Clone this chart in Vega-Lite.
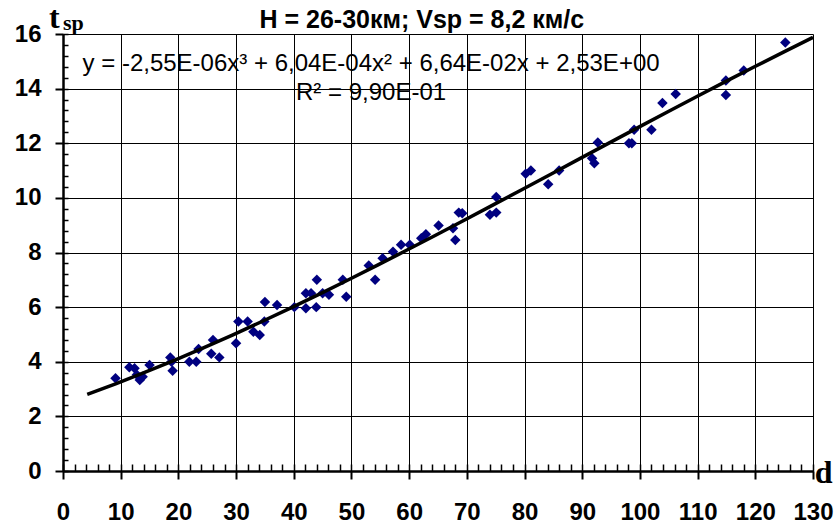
{
  "$schema": "https://vega.github.io/schema/vega-lite/v6.json",
  "width": 750,
  "height": 437,
  "autosize": "none",
  "padding": {"left": 63, "top": 34, "right": 25, "bottom": 58},
  "background": "#ffffff",
  "config": {"view": {"stroke": null}, "axis": {"labels": false, "ticks": false, "domain": false, "titleOpacity": 0, "titleFontSize": 1}},
  "datasets": {
    "pts": [
      {"d": 9.1, "tsp": 3.4}, {"d": 11.5, "tsp": 3.8}, {"d": 12.4, "tsp": 3.76}, {"d": 12.8, "tsp": 3.52}, {"d": 13.3, "tsp": 3.33}, {"d": 13.8, "tsp": 3.45}, {"d": 15.0, "tsp": 3.88}, {"d": 18.6, "tsp": 4.16}, {"d": 18.8, "tsp": 4.0}, {"d": 19.0, "tsp": 3.67}, {"d": 21.9, "tsp": 4.0}, {"d": 23.1, "tsp": 4.0}, {"d": 23.5, "tsp": 4.47}, {"d": 25.7, "tsp": 4.29}, {"d": 26.0, "tsp": 4.8}, {"d": 27.1, "tsp": 4.16}, {"d": 30.0, "tsp": 4.68}, {"d": 30.4, "tsp": 5.47}, {"d": 32.0, "tsp": 5.47}, {"d": 33.0, "tsp": 5.1}, {"d": 34.1, "tsp": 4.98}, {"d": 34.9, "tsp": 5.47}, {"d": 35.0, "tsp": 6.19}, {"d": 37.1, "tsp": 6.08}, {"d": 40.1, "tsp": 6.0}, {"d": 42.1, "tsp": 5.96}, {"d": 42.1, "tsp": 6.51}, {"d": 43.0, "tsp": 6.51}, {"d": 43.9, "tsp": 6.0}, {"d": 44.0, "tsp": 7.0}, {"d": 45.0, "tsp": 6.51}, {"d": 46.1, "tsp": 6.45}, {"d": 48.5, "tsp": 7.0}, {"d": 49.1, "tsp": 6.38}, {"d": 53.0, "tsp": 7.52}, {"d": 54.1, "tsp": 7.0}, {"d": 55.4, "tsp": 7.79}, {"d": 57.2, "tsp": 8.03}, {"d": 58.6, "tsp": 8.28}, {"d": 60.1, "tsp": 8.28}, {"d": 62.1, "tsp": 8.52}, {"d": 62.9, "tsp": 8.67}, {"d": 65.1, "tsp": 8.99}, {"d": 67.6, "tsp": 8.89}, {"d": 68.0, "tsp": 8.46}, {"d": 68.6, "tsp": 9.46}, {"d": 69.2, "tsp": 9.44}, {"d": 74.0, "tsp": 9.38}, {"d": 75.1, "tsp": 9.46}, {"d": 75.1, "tsp": 10.03}, {"d": 80.2, "tsp": 10.88}, {"d": 81.1, "tsp": 11.0}, {"d": 84.1, "tsp": 10.5}, {"d": 86.0, "tsp": 11.0}, {"d": 91.7, "tsp": 11.45}, {"d": 92.1, "tsp": 11.27}, {"d": 92.7, "tsp": 12.03}, {"d": 98.1, "tsp": 12.0}, {"d": 98.6, "tsp": 12.0}, {"d": 99.0, "tsp": 12.49}, {"d": 102.0, "tsp": 12.49}, {"d": 103.9, "tsp": 13.47}, {"d": 106.2, "tsp": 13.8}, {"d": 114.9, "tsp": 14.3}, {"d": 114.9, "tsp": 13.77}, {"d": 118.0, "tsp": 14.66}, {"d": 125.2, "tsp": 15.69}
    ]
  },
  "layer": [
    {
      "data": {"name": "pts"},
      "mark": {"type": "point", "shape": "diamond", "filled": true, "color": "#000080", "size": 110, "opacity": 1},
      "encoding": {
        "x": {"field": "d", "type": "quantitative", "scale": {"domain": [0, 130], "nice": false, "zero": false},
          "axis": {"orient": "bottom", "zindex": 0, "values": [0,10,20,30,40,50,60,70,80,90,100,110,120,130], "title": null, "labels": true, "ticks": true, "domain": true, "grid": true, "gridColor": "#000000", "gridWidth": 1, "gridOpacity": 1, "gridDash": [], "domainColor": "#000000", "domainWidth": 2.5, "tickColor": "#000000", "tickWidth": 2, "tickSize": 8, "labelFont": "Liberation Sans", "labelFontSize": 24, "labelFontWeight": "bold", "labelColor": "#000000", "labelPadding": 21, "labelFlush": false, "labelOverlap": false}},
        "y": {"field": "tsp", "type": "quantitative", "scale": {"domain": [0, 16], "nice": false, "zero": false},
          "axis": {"orient": "left", "zindex": 0, "values": [0,2,4,6,8,10,12,14,16], "title": null, "labels": true, "ticks": true, "domain": true, "grid": true, "gridColor": "#000000", "gridWidth": 1, "gridOpacity": 1, "gridDash": [], "domainColor": "#000000", "domainWidth": 2.5, "tickColor": "#000000", "tickWidth": 2, "tickSize": 8, "labelFont": "Liberation Sans", "labelFontSize": 24, "labelFontWeight": "bold", "labelColor": "#000000", "labelPadding": 14, "labelFlush": false, "labelOverlap": false}}
      }
    },
    {
      "data": {"name": "pts"},
      "transform": [{"regression": "tsp", "on": "d", "method": "poly", "order": 3, "extent": [4.2, 130]}],
      "mark": {"type": "line", "color": "#000000", "strokeWidth": 3.5},
      "encoding": {
        "x": {"field": "d", "type": "quantitative",
          "axis": {"orient": "top", "zindex": 1, "offset": -437, "values": [0,2,4,6,8,10,12,14,16,18,20,22,24,26,28,30,32,34,36,38,40,42,44,46,48,50,52,54,56,58,60,62,64,66,68,70,72,74,76,78,80,82,84,86,88,90,92,94,96,98,100,102,104,106,108,110,112,114,116,118,120,122,124,126,128,130], "title": null, "grid": false, "domain": false, "labels": false, "ticks": true, "tickColor": "#000000", "tickOpacity": 1, "tickWidth": 1.5, "tickSize": 7}},
        "y": {"field": "tsp", "type": "quantitative",
          "axis": {"orient": "right", "zindex": 1, "offset": -750, "values": [0,0.4,0.8,1.2,1.6,2,2.4,2.8,3.2,3.6,4,4.4,4.8,5.2,5.6,6,6.4,6.8,7.2,7.6,8,8.4,8.8,9.2,9.6,10,10.4,10.8,11.2,11.6,12,12.4,12.8,13.2,13.6,14,14.4,14.8,15.2,15.6,16], "title": null, "grid": false, "domain": false, "labels": false, "ticks": true, "tickColor": "#000000", "tickOpacity": 1, "tickWidth": 1.5, "tickSize": 5}}
      }
    },
    {
      "data": {"values": [
        {"d": 53.4, "tsp": 14.9, "label": "y = -2,55E-06x³ + 6,04E-04x² + 6,64E-02x + 2,53E+00"},
        {"d": 53.4, "tsp": 13.85, "label": "R² = 9,90E-01"}
      ]},
      "mark": {"type": "text", "font": "Liberation Sans", "fontSize": 24, "color": "#000000", "align": "center", "baseline": "middle"},
      "encoding": {
        "x": {"field": "d", "type": "quantitative"},
        "y": {"field": "tsp", "type": "quantitative"},
        "text": {"field": "label"}
      }
    },
    {
      "data": {"values": [{"d": 62.2, "tsp": 16.22, "label": "H = 26-30км; Vsp = 8,2 км/с"}]},
      "mark": {"type": "text", "font": "Liberation Sans", "fontSize": 25, "fontWeight": "bold", "color": "#000000", "align": "center", "baseline": "alphabetic"},
      "encoding": {
        "x": {"field": "d", "type": "quantitative"},
        "y": {"field": "tsp", "type": "quantitative"},
        "text": {"field": "label"}
      }
    },
    {
      "data": {"values": [{"d": -2.43, "tsp": 16.22, "label": "t"}, {"d": 130.3, "tsp": -0.44, "label": "d"}]},
      "mark": {"type": "text", "font": "Liberation Serif", "fontSize": 32, "fontWeight": "bold", "color": "#000000", "align": "left", "baseline": "alphabetic"},
      "encoding": {
        "x": {"field": "d", "type": "quantitative"},
        "y": {"field": "tsp", "type": "quantitative"},
        "text": {"field": "label"}
      }
    },
    {
      "data": {"values": [{"d": 0.0, "tsp": 16.15, "label": "sp"}]},
      "mark": {"type": "text", "font": "Liberation Serif", "fontSize": 22, "fontWeight": "bold", "color": "#000000", "align": "left", "baseline": "alphabetic"},
      "encoding": {
        "x": {"field": "d", "type": "quantitative"},
        "y": {"field": "tsp", "type": "quantitative"},
        "text": {"field": "label"}
      }
    }
  ],
  "resolve": {"axis": {"x": "independent", "y": "independent"}}
}
